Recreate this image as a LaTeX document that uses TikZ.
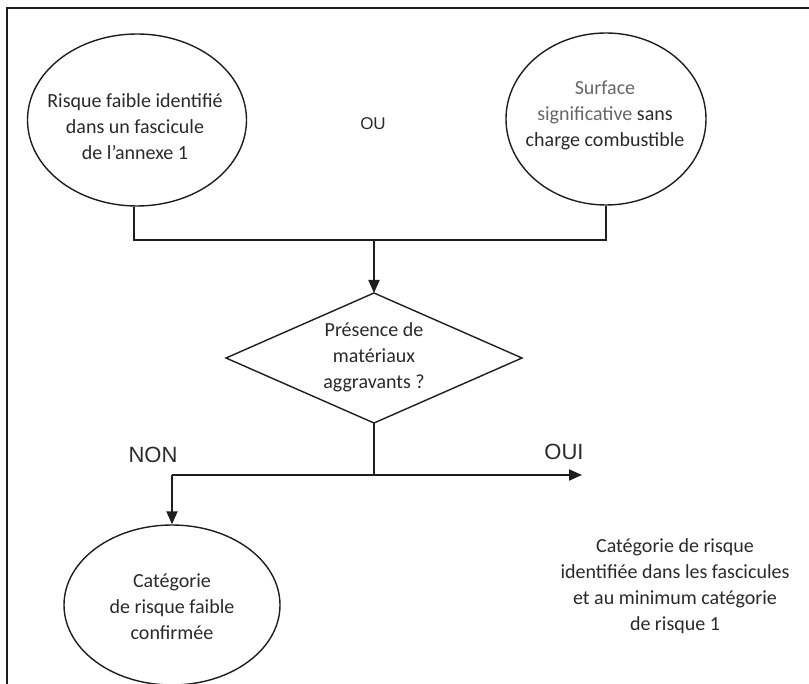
\documentclass[tikz,border=0pt]{standalone}
\usepackage{fontspec}
\setmainfont{Carlito}
\newfontfamily\arialf{Liberation Sans}
\usetikzlibrary{shapes.geometric,arrows.meta}
\definecolor{textc}{HTML}{2A2A2A}
\definecolor{greyt}{HTML}{666666}
\definecolor{linec}{HTML}{1E1E1E}
\begin{document}
\begin{tikzpicture}[x=1pt,y=-1pt,
  conn/.style={line width=1.9pt, draw=linec},
  arr/.style={conn, -{Triangle[length=13pt,width=11pt]}},
  oval/.style={ellipse, draw=linec, line width=1.4pt, inner sep=0pt},
  txt/.style={align=center, font=\fontsize{20}{26}\selectfont, text=textc, inner sep=0pt},
  lbl/.style={font=\arialf\fontsize{22}{24}\selectfont, text=textc, inner sep=0pt},
]
\useasboundingbox (0,0) rectangle (809,684);
\clip (0,0) rectangle (809,684);
\fill[white] (0,0) rectangle (809,684);
\draw[line width=2.5pt, draw=linec] (7,8) rectangle (840,720);

% top ovals
\node[oval, minimum width=219pt, minimum height=172pt] (e1) at (137,120) {};
\node[txt] (t1) at (135,127) {Risque faible identifié\\dans un fascicule\\de l’annexe 1};
\node[oval, minimum width=200pt, minimum height=172pt] (e2) at (606,119) {};
\node[txt] (t2) at (605,115) {\textcolor{greyt}{Surface}\\\textcolor{greyt}{significative} sans\\charge combustible};
\node[font=\arialf\fontsize{17}{20}\selectfont, text=textc, inner sep=0pt] (ou) at (373,124) {OU};

% diamond
\coordinate (dT) at (374,293);
\coordinate (dR) at (522,358);
\coordinate (dB) at (374,423);
\coordinate (dL) at (226,358);
\draw[line width=1.4pt, draw=linec] (dT) -- (dR) -- (dB) -- (dL) -- cycle;
\node[txt] (t3) at (374,357) {Présence de\\matériaux\\aggravants ?};

% merge connector
\coordinate (j1) at (134,240);
\coordinate (j2) at (606,240);
\coordinate (jm) at (374,240);
\draw[conn] (e1.south -| j1) -- (j1) -- (j2) -- (e2.south -| j2);
\draw[arr] (jm) -- (dT);

% branch
\coordinate (jb) at (374,475);
\coordinate (jl) at (172,475);
\coordinate (jr) at (582,475);
\draw[conn] (dB) -- (jb);
\draw[arr] (jl) -- (jr);
\node[oval, minimum width=216pt, minimum height=160pt] (e3) at (172,605) {};
\draw[arr] (jl) -- (e3.north);
\node[lbl] (non) at (153,455) {NON};
\node[lbl] (oui) at (564,452) {OUI};

\node[txt] (t4) at (172,607) {Catégorie\\de risque faible\\confirmée};
\node[txt] (t5) at (675,586) {Catégorie de risque\\identifiée dans les fascicules\\et au minimum catégorie\\de risque 1};
\end{tikzpicture}
\end{document}
